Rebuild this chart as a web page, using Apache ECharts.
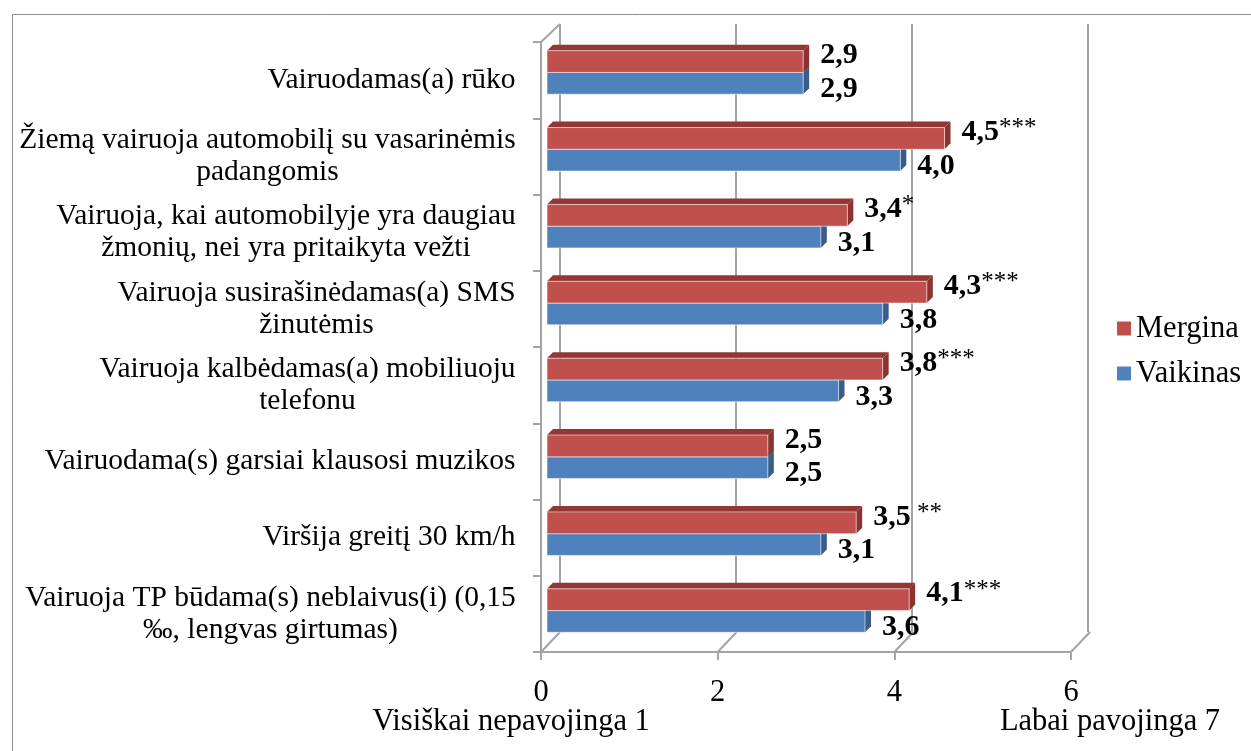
<!DOCTYPE html>
<html><head><meta charset="utf-8">
<script src="https://cdn.jsdelivr.net/npm/echarts@6/dist/echarts.min.js"></script>
<style>html,body{margin:0;padding:0;background:#fff}#c{width:1251px;height:751px}</style>
</head><body><div id="c"></div>
<script>
const categories = [
  'Vairuodamas(a) rūko',
  'Žiemą vairuoja automobilį su vasarinėmis\npadangomis',
  'Vairuoja, kai automobilyje yra daugiau\nžmonių, nei yra pritaikyta vežti',
  'Vairuoja susirašinėdamas(a) SMS\nžinutėmis',
  'Vairuoja kalbėdamas(a) mobiliuoju\ntelefonu',
  'Vairuodama(s) garsiai klausosi muzikos',
  'Viršija greitį 30 km/h',
  'Vairuoja TP būdama(s) neblaivus(i) (0,15\n‰, lengvas girtumas)'
];
const seriesNames = ['Mergina', 'Vaikinas'];
const mergina = [2.9, 4.5, 3.4, 4.3, 3.8, 2.5, 3.5, 4.1];
const vaikinas = [2.9, 4.0, 3.1, 3.8, 3.3, 2.5, 3.1, 3.6];
const merginaSig = ['', '***', '*', '***', '***', '', ' **', '***'];
const vaikinasSig = ['', '', '', '', '', '', '', ''];
const xTicks = [0, 2, 4, 6];
const leftLabel = 'Visiškai nepavojinga 1';
const rightLabel = 'Labai pavojinga 7';

const FONT = '"Liberation Serif", "Times New Roman", serif';
const CAT_FS = 29.5;
const BIG_FS = 30.5;
const GRAY = '#a3a3a3';

// per-label rich styles so that wrapped lines are centred within the block
const measure = document.createElement('canvas').getContext('2d');
measure.font = CAT_FS + 'px "Liberation Serif"';
const catRich = {};
categories.forEach((c, i) => {
  const w = Math.max(...c.split('\n').map(l => measure.measureText(l).width));
  catRich['l' + i] = { width: Math.ceil(w) + 2, align: 'center', fontSize: CAT_FS, fontFamily: FONT, color: '#000', lineHeight: 32 };
});

function fmt(v) { return v.toFixed(1).replace('.', ','); }

const COLORS = {
  red: ['#C0504D', '#933634', '#8A3331'],
  blue: ['#4F81BD', '#3B6497', '#385D8A']
};

function barRender(isRed, sigs) {
  return function (params, api) {
    const v = api.value(0), c = api.value(1);
    const p0 = api.coord([0, c]);
    const p1 = api.coord([v, c]);
    const band = api.size([0, 1])[1];
    const h = band * 0.283;
    const y0 = isRed ? p0[1] - h : p0[1];
    const y1 = y0 + h;
    const x0 = p0[0], x1 = p1[0];
    const d = 6;
    const col = isRed ? COLORS.red : COLORS.blue;
    const sig = sigs[params.dataIndex];
    const text = '{v|' + fmt(v) + '}' + (sig ? '{s|' + sig + '}' : '');
    return {
      type: 'group',
      children: [
        { type: 'polygon', shape: { points: [[x0, y0], [x0 + d, y0 - d], [x1 + d, y0 - d], [x1, y0]] }, style: { fill: col[1] } },
        { type: 'polygon', shape: { points: [[x1, y0], [x1 + d, y0 - d], [x1 + d, y1 - d], [x1, y1]] }, style: { fill: col[2] } },
        { type: 'rect', shape: { x: x0, y: y0, width: x1 - x0, height: h }, style: { fill: col[0], stroke: 'rgba(255,255,255,0.55)', lineWidth: 1 } },
        {
          type: 'text', x: x1 + 17, y: isRed ? (y0 + y1) / 2 - 6 : (y0 + y1) / 2 + 6,
          style: {
            text: text, align: 'left', verticalAlign: 'middle',
            rich: {
              v: { fontFamily: FONT, fontSize: 30, fontWeight: 'bold', fill: '#000', lineHeight: 32 },
              s: { fontFamily: FONT, fontSize: 25, fontWeight: 'normal', fill: '#000', verticalAlign: 'top', lineHeight: 32, padding: [0, 0, 8, 0] }
            }
          }
        }
      ]
    };
  };
}

function frameRender(params, api) {
  const t = api.value(0);
  const cs = params.coordSys;
  const p = api.coord([t, 0]);
  const yb = cs.y + cs.height;
  const children = [
    { type: 'line', shape: { x1: p[0], y1: yb, x2: p[0] + 19, y2: yb - 20 }, style: { stroke: GRAY, lineWidth: 2 } }
  ];
  if (params.dataIndex === 0) {
    children.push({ type: 'line', shape: { x1: p[0], y1: cs.y, x2: p[0] + 19, y2: cs.y - 18 }, style: { stroke: GRAY, lineWidth: 2 } });
  }
  return { type: 'group', children };
}

const chart = echarts.init(document.getElementById('c'), null, { renderer: 'canvas' });
chart.setOption({
  animation: false,
  backgroundColor: '#fff',
  graphic: [
    { type: 'rect', left: 10, top: 12, shape: { width: 1250, height: 745 }, style: { fill: 'none', stroke: '#8c8c8c', lineWidth: 1 }, z: -10 },
    { type: 'text', x: 511, y: 722, style: { text: leftLabel, font: BIG_FS + 'px ' + FONT, fill: '#000', align: 'center', verticalAlign: 'middle' } },
    { type: 'text', x: 1110, y: 722, style: { text: rightLabel, font: BIG_FS + 'px ' + FONT, fill: '#000', align: 'center', verticalAlign: 'middle' } }
  ],
  legend: {
    data: seriesNames,
    orient: 'vertical',
    left: 1112, top: 308,
    itemWidth: 14, itemHeight: 14, itemGap: 14,
    icon: 'rect',
    textStyle: { fontFamily: FONT, fontSize: BIG_FS, color: '#000' }
  },
  grid: [
    { left: 541, top: 42, width: 530, height: 610 },
    { left: 547, top: 34, width: 530, height: 615 },
    { left: 560, top: 24, width: 528, height: 608 }
  ],
  xAxis: [
    {
      gridIndex: 0, type: 'value', min: 0, max: 6, interval: 2,
      axisLine: { show: true, lineStyle: { color: GRAY, width: 2 } },
      axisTick: { show: true, length: 8, lineStyle: { color: GRAY, width: 2 } },
      axisLabel: { margin: 25, fontFamily: FONT, fontSize: BIG_FS, color: '#000', customValues: xTicks },
      splitLine: { show: false }
    },
    { gridIndex: 1, type: 'value', min: 0, max: 6, show: false, splitLine: { show: false } },
    {
      gridIndex: 2, type: 'value', min: 0, max: 6, interval: 2,
      axisLine: { show: false }, axisTick: { show: false }, axisLabel: { show: false },
      splitLine: { show: true, lineStyle: { color: GRAY, width: 2 } }
    }
  ],
  yAxis: [
    {
      gridIndex: 0, type: 'category', data: categories, inverse: true,
      axisLine: { show: true, lineStyle: { color: GRAY, width: 2 } },
      axisTick: { show: true, length: 8, interval: 0, lineStyle: { color: GRAY, width: 2 } },
      axisLabel: {
        interval: 0, margin: 24,
        formatter: (val, idx) => val.split('\n').map(l => '{l' + idx + '|' + l + '}').join('\n'),
        rich: catRich
      }
    },
    { gridIndex: 1, type: 'category', data: categories, inverse: true, show: false },
    { gridIndex: 2, type: 'category', data: categories, inverse: true, show: false }
  ],
  series: [
    {
      name: seriesNames[1], type: 'custom', xAxisIndex: 1, yAxisIndex: 1, z: 2,
      itemStyle: { color: COLORS.blue[0] },
      renderItem: barRender(false, vaikinasSig),
      encode: { x: 0, y: 1 },
      data: vaikinas.map((v, i) => [v, i])
    },
    {
      name: seriesNames[0], type: 'custom', xAxisIndex: 1, yAxisIndex: 1, z: 3,
      itemStyle: { color: COLORS.red[0] },
      renderItem: barRender(true, merginaSig),
      encode: { x: 0, y: 1 },
      data: mergina.map((v, i) => [v, i])
    },
    {
      type: 'custom', xAxisIndex: 0, yAxisIndex: 0, z: 1, silent: true,
      renderItem: frameRender,
      encode: { x: 0 },
      data: xTicks.map(t => [t, 0])
    }
  ]
});
</script>
</body></html>
